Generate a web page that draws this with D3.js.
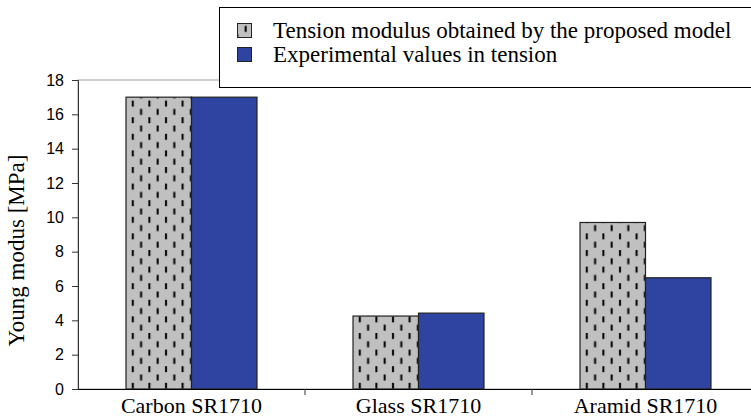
<!DOCTYPE html>
<html>
<head>
<meta charset="utf-8">
<script src="https://cdn.jsdelivr.net/npm/d3@7"></script>
<style>
  body { margin: 0; background: #fff; }
</style>
</head>
<body>
<div id="chart"></div>
<script>
// data
const categories = ['Carbon SR1710', 'Glass SR1710', 'Aramid SR1710']
const seriesNames = ['Tension modulus obtained by the proposed model', 'Experimental values in tension']
const modelValues = [17, 4.25, 9.7]
const experimentValues = [17, 4.42, 6.48]
const yTicks = [0, 2, 4, 6, 8, 10, 12, 14, 16, 18]

// layout
const
  width = 751,
  height = 418,
  plotLeft = 78,
  plotRight = 759,
  plotTop = 80,
  plotBottom = 389,
  serif = '"Times New Roman", "Liberation Serif", serif',
  sans = 'Arial, "Liberation Sans", sans-serif'

const svg = d3.select('#chart').append('svg')
  .attr('width', width)
  .attr('height', height)

// hatch pattern: short vertical dashes on grey
const defs = svg.append('defs')
const pat = defs.append('pattern')
  .attr('id', 'dash')
  .attr('patternUnits', 'userSpaceOnUse')
  .attr('width', 16.6)
  .attr('height', 16.6)
pat.append('rect').attr('width', 16.6).attr('height', 16.6).attr('fill', '#c0c0c0')
pat.append('rect').attr('x', 4).attr('y', 1).attr('width', 2).attr('height', 6).attr('fill', '#000')
pat.append('rect').attr('x', 12.3).attr('y', 9.3).attr('width', 2).attr('height', 6).attr('fill', '#000')

const y = d3.scaleLinear().domain([0, 18]).range([plotBottom, plotTop])
const x0 = d3.scaleBand().domain(categories).range([plotLeft, plotRight])
const x1 = d3.scaleBand().domain([0, 1]).range([0, x0.bandwidth()]).paddingOuter(0.733)

// plot frame (top / right)
svg.append('rect')
  .attr('x', plotLeft).attr('y', plotTop)
  .attr('width', plotRight - plotLeft).attr('height', plotBottom - plotTop)
  .attr('fill', 'none').attr('stroke', '#a0a0a0')

// bars
const fills = ['url(#dash)', '#2e44a0']
const groups = svg.selectAll('.grp')
  .data(categories.map((c, i) => ({ c, vals: [modelValues[i], experimentValues[i]] })))
  .enter().append('g')
  .attr('transform', d => `translate(${x0(d.c)},0)`)
groups.selectAll('rect')
  .data(d => d.vals.map((v, k) => ({ v, k })))
  .enter().append('rect')
  .attr('x', d => x1(d.k))
  .attr('y', d => y(d.v))
  .attr('width', x1.bandwidth())
  .attr('height', d => plotBottom - y(d.v))
  .attr('fill', d => fills[d.k])
  .attr('stroke', '#222')
  .attr('stroke-width', 1.2)

// y axis
const yAxis = svg.append('g')
  .attr('transform', `translate(${plotLeft},0)`)
  .call(d3.axisLeft(y).tickValues(yTicks).tickSize(6).tickPadding(8))
yAxis.select('.domain').attr('stroke', '#333')
yAxis.selectAll('line').attr('stroke', '#333')
yAxis.selectAll('text').attr('fill', '#000')
  .style('font-size', '16px').style('font-family', sans)

// x axis
const xAxis = svg.append('g')
  .attr('transform', `translate(0,${plotBottom})`)
  .call(d3.axisBottom(x0).tickSize(0).tickPadding(8))
xAxis.select('.domain').attr('stroke', '#000')
xAxis.selectAll('text')
  .attr('fill', '#000')
  .style('font-size', '22px')
  .style('font-family', serif)
// category separators
svg.append('g').selectAll('line')
  .data(categories.slice(1))
  .enter().append('line')
  .attr('x1', d => x0(d)).attr('x2', d => x0(d))
  .attr('y1', plotBottom).attr('y2', plotBottom + 6)
  .attr('stroke', '#333')

// y title
svg.append('text')
  .attr('transform', `translate(24,${(plotTop + plotBottom) / 2 + 16}) rotate(-90)`)
  .attr('text-anchor', 'middle')
  .style('font-size', '23px')
  .style('font-family', serif)
  .text('Young modus [MPa]')

// legend
const legend = svg.append('g')
legend.append('rect')
  .attr('x', 219.5).attr('y', 7.5)
  .attr('width', 600).attr('height', 80)
  .attr('fill', '#fff').attr('stroke', '#000')
seriesNames.forEach((name, i) => {
  legend.append('rect')
    .attr('x', 237.5).attr('y', 23.5 + i * 24)
    .attr('width', 14).attr('height', 14)
    .attr('fill', fills[i]).attr('stroke', '#222')
  legend.append('text')
    .attr('x', 273).attr('y', 38 + i * 24)
    .style('font-size', '23px')
    .style('font-family', serif)
    .text(name)
})
</script>
</body>
</html>
